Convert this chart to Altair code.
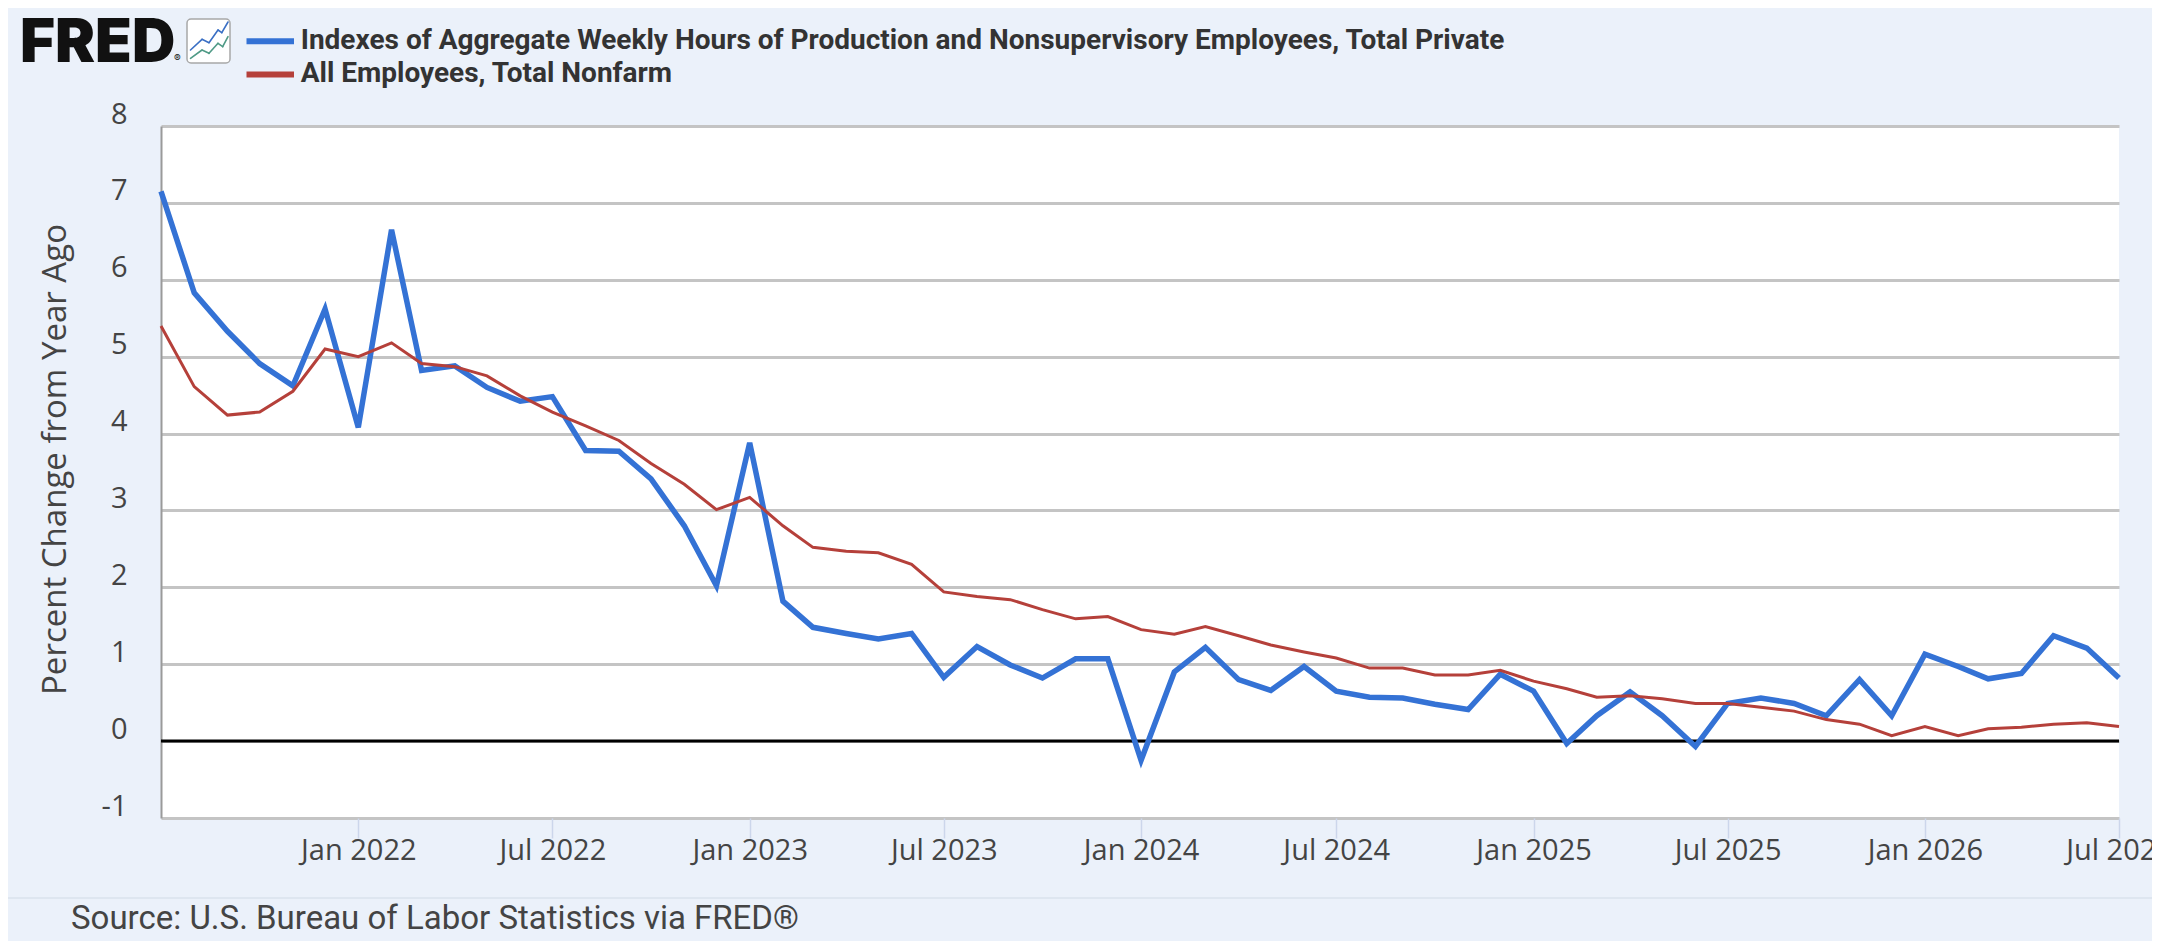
import altair as alt
import pandas as pd

# ---- data ----
months = pd.date_range("2021-07-01", "2026-07-01", freq="MS").strftime("%Y-%m-%d").tolist()

hours = [7.15, 5.83, 5.33, 4.91, 4.62, 5.62, 4.08, 6.65, 4.82, 4.88, 4.60, 4.42,
         4.48, 3.78, 3.77, 3.41, 2.80, 2.02, 3.88, 1.82, 1.48, 1.40, 1.33, 1.40,
         0.83, 1.23, 0.99, 0.82, 1.07, 1.07, -0.25, 0.90, 1.22, 0.80, 0.66, 0.97,
         0.65, 0.57, 0.56, 0.48, 0.41, 0.87, 0.65, -0.03, 0.33, 0.64, 0.33, -0.07,
         0.49, 0.56, 0.49, 0.33, 0.80, 0.33, 1.13, 0.97, 0.81, 0.88, 1.37, 1.21,
         0.82]

payroll = [5.40, 4.61, 4.24, 4.28, 4.55, 5.10, 5.00, 5.18, 4.91, 4.87, 4.75, 4.49,
           4.28, 4.10, 3.91, 3.61, 3.34, 3.01, 3.17, 2.80, 2.52, 2.47, 2.45, 2.30,
           1.94, 1.88, 1.84, 1.71, 1.59, 1.62, 1.45, 1.39, 1.49, 1.37, 1.25, 1.16,
           1.08, 0.95, 0.95, 0.86, 0.86, 0.92, 0.78, 0.68, 0.57, 0.59, 0.55, 0.49,
           0.49, 0.44, 0.39, 0.28, 0.22, 0.07, 0.19, 0.07, 0.16, 0.18, 0.22, 0.24,
           0.19]

series_names = [
    "Indexes of Aggregate Weekly Hours of Production and Nonsupervisory Employees, Total Private",
    "All Employees, Total Nonfarm",
]
series_colors = ["#3472d5", "#b5403a"]

y_ticks = [-1, 0, 1, 2, 3, 4, 5, 6, 7, 8]
x_tick_dates = [(2022, 1), (2022, 7), (2023, 1), (2023, 7), (2024, 1), (2024, 7),
                (2025, 1), (2025, 7), (2026, 1), (2026, 7)]

df = pd.DataFrame({
    "date": months * 2,
    "series": [series_names[0]] * len(months) + [series_names[1]] * len(months),
    "value": hours + payroll,
})

W, H = 1958, 692
BG = "#ebf1fa"
FONT = "Open Sans"

x_enc = alt.X(
    "date:T",
    scale=alt.Scale(type="utc",
                    domain=[alt.DateTime(year=2021, month=7, date=1, utc=True),
                            alt.DateTime(year=2026, month=7, date=1, utc=True)]),
    axis=alt.Axis(
        title=None, format="%b %Y", grid=False, domain=False,
        values=[alt.DateTime(year=y, month=m, date=1, utc=True) for y, m in x_tick_dates],
        ticks=True, tickSize=20, tickColor="#ccd6eb", tickWidth=1.5,
        labelFont=FONT, labelFontSize=29, labelColor="#444444",
        labelPadding=12, labelBaseline="middle", labelFlush=False, labelOverlap=False,
    ),
)

y_enc = alt.Y(
    "value:Q",
    scale=alt.Scale(domain=[-1, 8], nice=False, zero=False),
    axis=alt.Axis(
        values=y_ticks, labelExpr="datum.value + ''", grid=True, gridColor="#c4c4c4",
        gridWidth=3, domain=True, domainColor="#9a9a9a", domainWidth=2,
        ticks=False, tickSize=0,
        labelFont=FONT, labelFontSize=29, labelColor="#444444",
        labelPadding=34, labelOffset=-12,
        title="Percent Change from Year Ago", titleFont=FONT, titleFontSize=33,
        titleFontWeight="normal", titleColor="#444444",
        titleX=-106, titleY=H / 2 - 13, titleAngle=270, titleAlign="center",
        titleBaseline="middle",
    ),
)

color_enc = alt.Color(
    "series:N",
    scale=alt.Scale(domain=series_names, range=series_colors),
    legend=None,
)

base = alt.Chart(df)

blue = base.transform_filter(alt.datum.series == series_names[0]).mark_line(
    strokeWidth=5.5).encode(x=x_enc, y=y_enc, color=color_enc)
red = base.transform_filter(alt.datum.series == series_names[1]).mark_line(
    strokeWidth=3).encode(x=x_enc, y=y_enc, color=color_enc)

one = pd.DataFrame({"a": [0]})

zero = alt.Chart(one).mark_rule(color="black", strokeWidth=3).encode(y=alt.datum(0))

# ---- legend (manual, two rows) ----
legend_rows_y = [-84.7, -51.6]
legend_layers = []
for name, col, ly in zip(series_names, series_colors, legend_rows_y):
    legend_layers.append(
        alt.Chart(one).mark_rule(color=col, strokeWidth=6).encode(
            x=alt.value(85.5), x2=alt.value(133), y=alt.value(ly))
    )
    legend_layers.append(
        alt.Chart(one).mark_text(
            text=name, font="Roboto", fontSize=28, fontWeight="bold", color="#333333",
            align="left", baseline="middle",
        ).encode(x=alt.value(139.7), y=alt.value(ly))
    )

fred_logo = alt.Chart(one).mark_text(
    text="FRED", font="Inter", fontSize=60, fontWeight=900, color="#111111",
    align="left", baseline="alphabetic",
).encode(x=alt.value(-141), y=alt.value(-64))

reg = alt.Chart(one).mark_text(
    text="®", font="Inter", fontSize=10, color="#111111", align="left",
    baseline="alphabetic",
).encode(x=alt.value(13), y=alt.value(-64))

icon_box = alt.Chart(one).mark_rect(
    fill="white", stroke="#a8a8a8", strokeWidth=1.5, cornerRadius=4,
).encode(x=alt.value(26), x2=alt.value(69), y=alt.value(-107), y2=alt.value(-63))

icon_blue_pts = [(29.5, -76), (41, -86.7), (48, -83.3), (57, -96), (60.8, -93.3), (67, -104)]
icon_green_pts = [(29.5, -67.7), (41, -76), (48, -72.7), (57, -82.7), (61.7, -79.3), (67, -89.3)]

icon_layers = []
for pts, col in ((icon_blue_pts, "#3a6fc4"), (icon_green_pts, "#4f9a86")):
    for (x1, y1), (x2, y2) in zip(pts[:-1], pts[1:]):
        icon_layers.append(
            alt.Chart(one).mark_rule(color=col, strokeWidth=1.6, strokeCap="round").encode(
                x=alt.value(x1), x2=alt.value(x2), y=alt.value(y1), y2=alt.value(y2))
        )

separator = alt.Chart(one).mark_rule(color="#dae2ed", strokeWidth=1.5).encode(
    x=alt.value(-153), x2=alt.value(1991), y=alt.value(772))

source = alt.Chart(one).mark_text(
    text="Source: U.S. Bureau of Labor Statistics via FRED®", font="Roboto", fontSize=33,
    color="#444444", align="left", baseline="alphabetic",
).encode(x=alt.value(-90), y=alt.value(803))

chart = alt.layer(
    zero, blue, red, *legend_layers, fred_logo, reg, icon_box, *icon_layers,
    separator, source
).resolve_scale(color="shared").properties(
    width=W, height=H,
    autosize=alt.AutoSizeParams(type="none"),
    padding={"left": 153, "top": 118, "right": 33, "bottom": 123},
    background=BG,
).configure_view(fill="white", strokeWidth=0)

chart.save("out.html", embed_options={"renderer": "svg", "actions": False})
